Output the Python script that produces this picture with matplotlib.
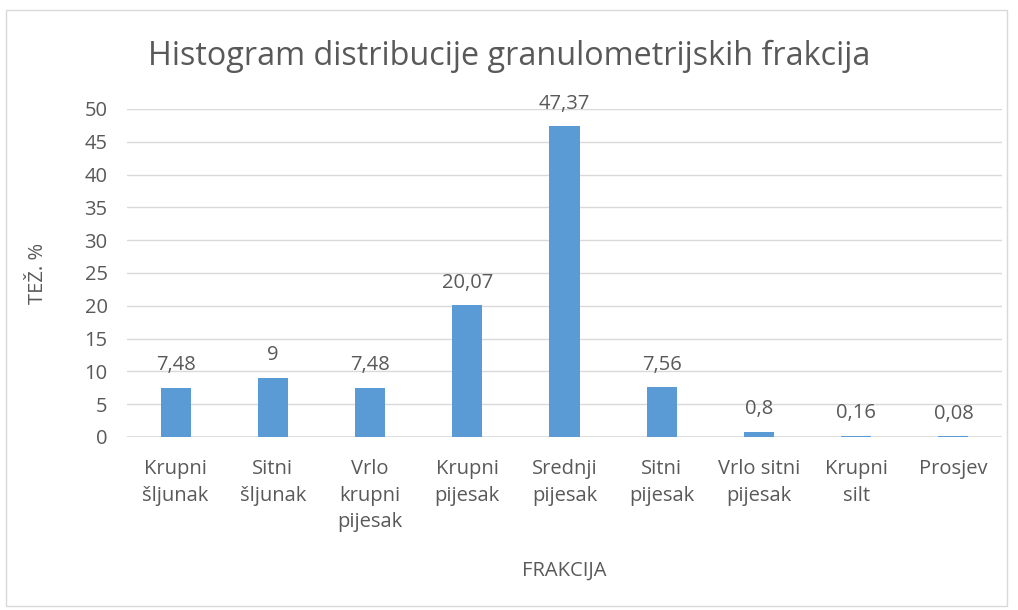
import matplotlib
matplotlib.use("Agg")
import matplotlib.pyplot as plt
from matplotlib.patches import Rectangle

categories = ["Krupni\nšljunak", "Sitni\nšljunak", "Vrlo\nkrupni\npijesak", "Krupni\npijesak",
              "Srednji\npijesak", "Sitni\npijesak", "Vrlo sitni\npijesak", "Krupni\nsilt", "Prosjev"]
values = [7.48, 9, 7.48, 20.07, 47.37, 7.56, 0.8, 0.16, 0.08]
labels = ["7,48", "9", "7,48", "20,07", "47,37", "7,56", "0,8", "0,16", "0,08"]
yticks = [0, 5, 10, 15, 20, 25, 30, 35, 40, 45, 50]

plt.rcParams['font.family'] = ['Open Sans', 'DejaVu Sans']
txt = '#595959'
bar_color = '#5B9BD5'
grid = '#D9D9D9'

fig = plt.figure(figsize=(10.18, 6.10), dpi=100)
fig.patches.append(Rectangle((6/1018, 1-606/610), 1001/1018, 596/610, transform=fig.transFigure,
                             fill=False, edgecolor='#D9D9D9', linewidth=1))
ax = fig.add_axes([127/1018, 1-437/610, 875/1018, 328/610])
x = range(len(categories))
ax.bar(x, values, width=0.31, color=bar_color, zorder=3)
for xi, v, l in zip(x, values, labels):
    ax.annotate(l, (xi, v), xytext=(0, 9), textcoords='offset points', ha='center', va='bottom',
                fontsize=14.5, color=txt)
ax.set_xlim(-0.5, len(categories) - 0.5)
ax.set_ylim(0, 50)
ax.set_yticks(yticks)
ax.set_yticklabels([str(t) for t in yticks], fontsize=14.5, color=txt)
ax.set_xticks(list(x))
ax.set_xticklabels(categories, fontsize=14.5, color=txt, linespacing=1.42)
ax.tick_params(axis='both', length=0)
ax.tick_params(axis='x', pad=16)
ax.tick_params(axis='y', pad=14)
ax.yaxis.grid(True, color=grid, linewidth=1, zorder=0)
for s in ax.spines.values():
    s.set_visible(False)
ax.axhline(0, color=grid, linewidth=1.2, zorder=2)
ax.set_xlabel("FRAKCIJA", fontsize=14.5, color=txt, labelpad=21)
ax.set_ylabel("TEŽ. %", fontsize=14.5, color=txt, labelpad=26)
fig.text(0.5, 1-56/610, "Histogram distribucije granulometrijskih frakcija", ha='center', va='center',
         fontsize=23.3, color=txt)
fig.savefig("out.png", dpi=100)
